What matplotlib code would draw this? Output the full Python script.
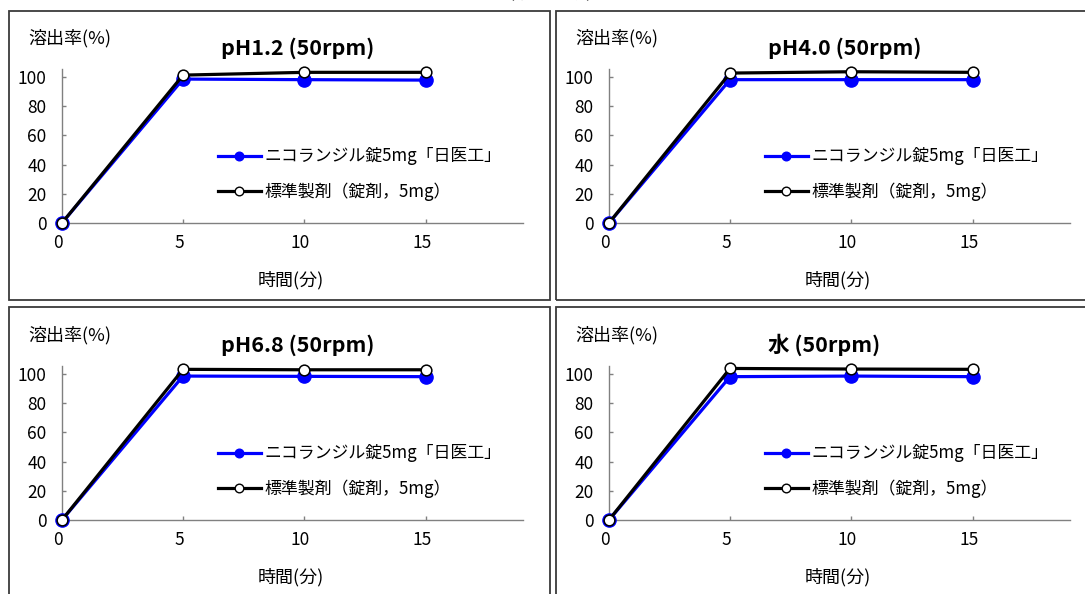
import matplotlib
matplotlib.use("Agg")
import matplotlib.pyplot as plt
from matplotlib.lines import Line2D
from matplotlib.patches import Rectangle
from matplotlib.transforms import ScaledTranslation

plt.rcParams['font.family'] = ['Noto Sans CJK JP', 'DejaVu Sans']

# ---------------- data ----------------
time_min = [0, 5, 10, 15]
titles = ["pH1.2 (50rpm)", "pH4.0 (50rpm)", "pH6.8 (50rpm)", "水 (50rpm)"]
test_ph12 = [0, 98.4, 98.0, 97.7]
ref_ph12 = [0, 101.1, 103.0, 103.0]
test_ph40 = [0, 98.0, 98.0, 98.0]
ref_ph40 = [0, 102.5, 103.4, 103.0]
test_ph68 = [0, 98.4, 98.2, 98.0]
ref_ph68 = [0, 103.0, 102.7, 102.7]
test_water = [0, 98.0, 98.4, 98.0]
ref_water = [0, 103.6, 103.2, 103.0]
test_label = "ニコランジル錠5mg「日医工」"
ref_label = "標準製剤（錠剤，5mg）"
x_ticks = [0, 5, 10, 15]
y_ticks = [0, 20, 40, 60, 80, 100]
ylabel_text = "溶出率(%)"
xlabel_text = "時間(分)"
top_text = "（溶出挙動）"

tests = [test_ph12, test_ph40, test_ph68, test_water]
refs = [ref_ph12, ref_ph40, ref_ph68, ref_water]

W, H = 1085, 594
fig = plt.figure(figsize=(W / 100, H / 100), dpi=100)


def fx(px):
    return px / W


def fy(py):
    return 1 - py / H


# panel offsets (pixels)
offsets = [(0, 0), (547, 0), (0, 297), (547, 297)]

# panel frames
frames = [(9, 11, 550, 299.5), (555.5, 11, 1095, 299.5),
          (9, 307, 550, 605), (555.5, 307, 1095, 605)]
for (x0, y0, x1, y1) in frames:
    fig.add_artist(Rectangle((fx(x0), fy(y1)), fx(x1) - fx(x0), fy(y0) - fy(y1),
                             transform=fig.transFigure, fill=False,
                             edgecolor='#3a3a3a', linewidth=1.3))

fig.text(fx(550), fy(3), top_text, ha='center', va='bottom', fontsize=13)

ax_left, ax_right = 61.7, 522.8
ax_bottom, ax_top = 223.3, 69.4
axis_color = '#808080'

for i in range(4):
    dx, dy = offsets[i]
    ax = fig.add_axes([fx(ax_left + dx), fy(ax_bottom + dy),
                       fx(ax_right) - fx(ax_left), fy(ax_top) - fy(ax_bottom)])
    ax.set_xlim(0, 19)
    ax.set_ylim(0, 105)
    ax.patch.set_alpha(0)
    for s in ['top', 'right']:
        ax.spines[s].set_visible(False)
    for s in ['left', 'bottom']:
        ax.spines[s].set_color(axis_color)
        ax.spines[s].set_linewidth(1.0)
    ax.set_xticks(x_ticks)
    ax.set_yticks(y_ticks)
    ax.tick_params(axis='both', direction='in', length=3, width=1.0,
                   color=axis_color, labelsize=12.5, labelcolor='black')
    ax.tick_params(axis='y', pad=11)
    ax.tick_params(axis='x', pad=8)
    for lab in ax.get_xticklabels():
        lab.set_transform(lab.get_transform() +
                          ScaledTranslation(-4 / 100, 0, fig.dpi_scale_trans))

    ax.plot(time_min, tests[i], color='#0000ff', linewidth=2.3, marker='o',
            markersize=9.5, markerfacecolor='#0000ff', markeredgecolor='#0000ff',
            clip_on=False, zorder=3)
    ax.plot(time_min, refs[i], color='black', linewidth=2.3, marker='o',
            markersize=7.7, markerfacecolor='white', markeredgecolor='black',
            markeredgewidth=1.1, clip_on=False, zorder=4)

    h1 = Line2D([], [], color='#0000ff', linewidth=2.3, marker='o', markersize=6.2,
                markerfacecolor='#0000ff', markeredgecolor='#0000ff')
    h2 = Line2D([], [], color='black', linewidth=2.3, marker='o', markersize=6.2,
                markerfacecolor='white', markeredgecolor='black', markeredgewidth=1.0)
    ax.legend([h1, h2], [test_label, ref_label], loc='center left',
              bbox_to_anchor=(fx(217.5 + dx), fy(174 + dy)),
              bbox_transform=fig.transFigure, frameon=False, fontsize=12.2,
              handlelength=2.55, handletextpad=0.2, labelspacing=0.98,
              borderpad=0, borderaxespad=0)

    fig.text(fx(28 + dx), fy(38.7 + dy), ylabel_text, ha='left', va='center', fontsize=13)
    fig.text(fx(291 + dx), fy(280 + dy), xlabel_text, ha='center', va='center', fontsize=13)
    fig.text(fx(221 + dx), fy(48 + dy), titles[i], ha='left', va='center',
             fontsize=15.5, fontweight='bold')

fig.savefig("out.png", dpi=100)
